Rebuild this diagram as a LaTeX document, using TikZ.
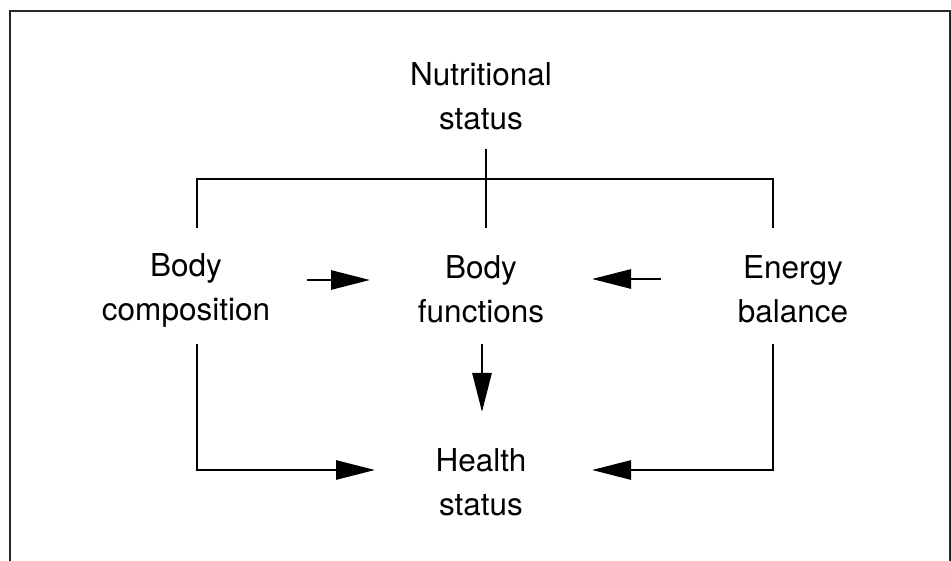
\documentclass[tikz,border=0pt]{standalone}
\usepackage{fontspec}
\setmainfont{TeX Gyre Heros}
\usetikzlibrary{arrows.meta}
\begin{document}
\begin{tikzpicture}[x=1pt,y=-1pt,
  lbl/.style={align=center,inner sep=0pt,font=\fontsize{31.5}{44}\selectfont},
  conn/.style={line width=2.8pt,line join=miter},
  arr/.style={conn,-{Triangle[length=39pt,width=19pt]}},
  frame/.style={line width=1.6pt,draw=black!85}]
\useasboundingbox (0,0) rectangle (951,561);
\draw[frame] (10,561) -- (10,11) -- (950,11) -- (950,561);
\node[lbl] (nut) at (481,96) {Nutritional\\status};
\node[lbl] (bc) at (186,290) {Body\\composition};
\node[lbl] (bf) at (481,289) {Body\\functions};
\node[lbl] (eb) at (793,289) {Energy\\balance};
\node[lbl] (hs) at (481,482) {Health\\status};
\coordinate (nutS) at (486,149);
\coordinate (bfN) at (486,228);
\coordinate (bcN) at (197,228);
\coordinate (ebN) at (773,228);
\coordinate (bcE) at (307,280);
\coordinate (bfW) at (370,280);
\coordinate (ebW) at (661,279);
\coordinate (bfE) at (592,279);
\coordinate (bfS) at (482,344);
\coordinate (hsN) at (482,412);
\coordinate (bcS) at (197,344);
\coordinate (hsW) at (375,470);
\coordinate (ebS) at (773,344);
\coordinate (hsE) at (592,470);
\draw[conn] (nutS) -- (bfN);
\draw[conn] (bcN) -- ++(0,-49) -| (ebN);
\draw[arr] (bcE) -- (bfW);
\draw[arr] (ebW) -- (bfE);
\draw[arr] (bfS) -- (hsN);
\draw[arr] (bcS) |- (hsW);
\draw[arr] (ebS) |- (hsE);
\end{tikzpicture}
\end{document}
